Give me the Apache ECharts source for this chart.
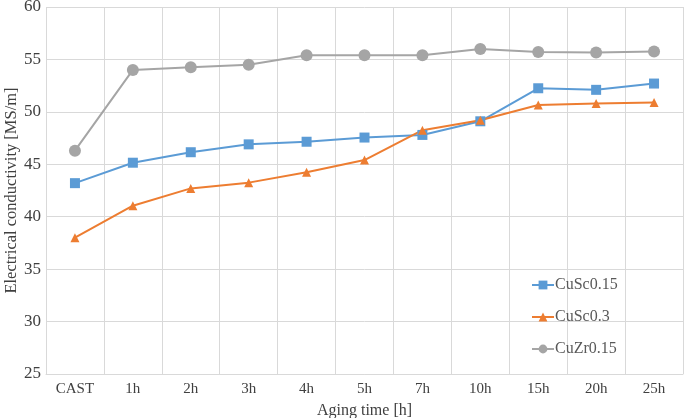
<!DOCTYPE html>
<html><head><meta charset="utf-8">
<script src="https://cdn.jsdelivr.net/npm/echarts@6/dist/echarts.min.js"></script>
<style>html,body{margin:0;padding:0;background:#fff}#c{width:685px;height:418px}</style>
</head><body><div id="c"></div>
<script>
const categories = ['CAST','1h','2h','3h','4h','5h','7h','10h','15h','20h','25h'];
const cuSc015 = [43.2,45.15,46.15,46.9,47.15,47.55,47.8,49.1,52.25,52.1,52.7];
const cuSc03  = [38.0,41.05,42.7,43.25,44.25,45.4,48.25,49.2,50.65,50.8,50.9];
const cuZr015 = [46.3,54.0,54.25,54.5,55.4,55.4,55.4,56.0,55.7,55.65,55.75];
const seriesNames = ['CuSc0.15','CuSc0.3','CuZr0.15'];
const yMin = 25, yMax = 60, yStep = 5;

const font = 'Liberation Serif, Times New Roman, serif';
const chart = echarts.init(document.getElementById('c'));
function mk(name, data, color, symbol, size){
  return {name, type:'line', data, symbol, symbolSize:size, showSymbol:true,
    lineStyle:{color, width:2}, itemStyle:{color}, emphasis:{disabled:true}, animation:false};
}
chart.setOption({
  animation:false,
  grid:{left:46, right:2, top:7, bottom:44, containLabel:false, outerBoundsMode:'none'},
  legend:{orient:'vertical', left:526, top:272, itemGap:16, itemWidth:22, itemHeight:11,
    textStyle:{fontFamily:font, fontSize:16, color:'#595959', padding:[0,0,0,-4]},
    data:seriesNames},
  xAxis:{type:'category', data:categories, boundaryGap:true,
    name:'Aging time [h]', nameLocation:'middle', nameGap:29, nameMoveOverlap:false,
    nameTextStyle:{fontFamily:font, fontSize:16, color:'#404040'},
    axisLine:{show:true, lineStyle:{color:'#d9d9d9', width:1}},
    axisTick:{show:false},
    axisLabel:{fontFamily:font, fontSize:15, color:'#404040', margin:8},
    splitLine:{show:true, lineStyle:{color:'#d9d9d9', width:1}}},
  yAxis:{type:'value', min:yMin, max:yMax, interval:yStep,
    name:'Electrical conductivity [MS/m]', nameLocation:'middle', nameGap:26, nameMoveOverlap:false,
    nameTextStyle:{fontFamily:font, fontSize:16.5, color:'#404040'},
    axisLine:{show:false}, axisTick:{show:false},
    axisLabel:{fontFamily:font, fontSize:17, color:'#404040', margin:5},
    splitLine:{show:true, lineStyle:{color:'#d9d9d9', width:1}}},
  series:[
    mk(seriesNames[0], cuSc015, '#5b9bd5', 'rect', 10),
    mk(seriesNames[1], cuSc03, '#ed7d31', 'triangle', 9),
    mk(seriesNames[2], cuZr015, '#a5a5a5', 'circle', 12)
  ]
});
</script></body></html>
